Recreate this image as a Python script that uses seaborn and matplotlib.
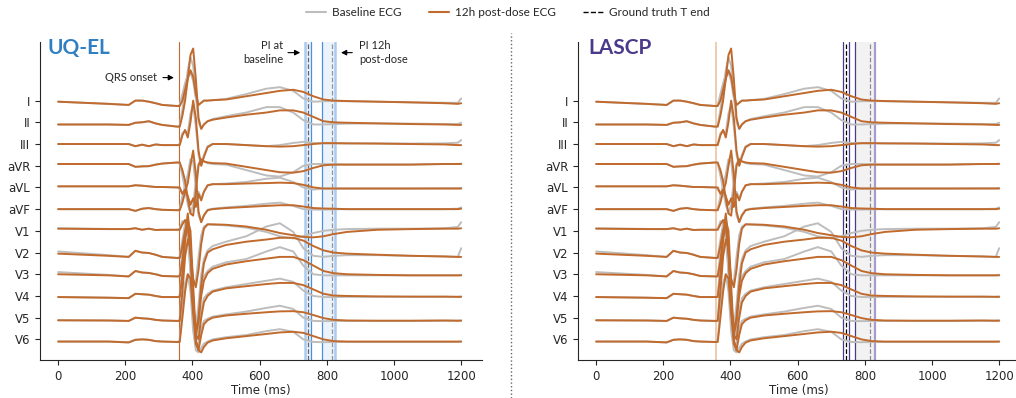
import numpy as np
import pandas as pd
import matplotlib
matplotlib.use("Agg")
import matplotlib.pyplot as plt
import seaborn as sns
from matplotlib.lines import Line2D

sns.set_style("ticks")
plt.rcParams['font.family'] = ['DejaVu Sans']

leads = ['I', 'II', 'III', 'aVR', 'aVL', 'aVF', 'V1', 'V2', 'V3', 'V4', 'V5', 'V6']

# shared time knots (ms)
t_ms = [0, 150, 210, 230, 250, 270, 290, 310, 355, 362, 370, 378, 386, 394, 402, 410,
        418, 426, 434, 445, 460, 500, 560, 620, 660, 700, 730, 760, 790, 820, 860, 950,
        1050, 1150, 1190, 1200]

# amplitudes (one lead spacing = 1 unit)
I_post = [-0.05, -0.15, -0.2, 0.0, 0.0, -0.05, -0.12, -0.2, -0.25, -0.25, 0.0, 0.5, 1.0, 1.4, 1.1, 0.3,
          -0.2, -0.1, 0.0, 0.0, 0.02, 0.05, 0.2, 0.35, 0.45, 0.5, 0.4, 0.2, 0.05, 0.0, -0.02, -0.05,
          -0.08, -0.12, -0.15, -0.12]
I_base = [-0.05, -0.15, -0.2, 0.0, 0.0, -0.05, -0.12, -0.2, -0.25, -0.2, 0.3, 0.8, 1.2, 1.3, 0.9, 0.1,
          -0.2, -0.1, 0.0, 0.0, 0.02, 0.08, 0.3, 0.55, 0.62, 0.45, 0.1, -0.05, -0.03, -0.02, -0.03, -0.05,
          -0.08, -0.1, -0.1, 0.1]
II_post = [-0.1, -0.1, -0.12, -0.02, 0.0, 0.05, -0.05, -0.12, -0.2, -0.2, 0.3, 1.0, 2.0, 3.1, 3.4, 2.0,
           0.2, -0.3, -0.1, 0.05, 0.12, 0.22, 0.35, 0.45, 0.55, 0.55, 0.45, 0.25, 0.05, 0.0, -0.02, -0.05,
           -0.08, -0.1, -0.12, -0.12]
II_base = [-0.1, -0.1, -0.12, -0.02, 0.0, 0.05, -0.05, -0.12, -0.2, -0.15, 0.6, 1.4, 2.4, 3.0, 2.6, 1.2,
           0.0, -0.3, -0.1, 0.05, 0.15, 0.28, 0.45, 0.7, 0.7, 0.45, 0.1, -0.1, -0.1, -0.08, -0.06, -0.05,
           -0.06, -0.08, -0.08, -0.02]
III_post = [0.0, 0.0, 0.0, -0.1, -0.03, -0.1, -0.02, -0.05, -0.05, -0.05, 0.4, 0.65, 0.3, 1.0, 2.0, 1.2,
            -0.3, -1.0, -0.6, -0.15, 0.0, 0.0, -0.05, -0.1, -0.12, -0.1, -0.05, 0.0, 0.04, 0.04, 0.03, 0.02,
            0.0, -0.02, -0.05, -0.05]
III_base = [0.0, 0.0, 0.0, -0.1, -0.03, -0.1, -0.02, -0.05, -0.05, 0.0, 0.5, 0.6, 0.5, 1.4, 1.8, 0.8,
            -0.5, -1.0, -0.5, -0.1, 0.0, 0.0, -0.05, -0.1, -0.05, 0.05, 0.1, 0.05, 0.03, 0.03, 0.03, 0.03,
            0.02, 0.03, 0.06, 0.18]
aVR_post = [0.08, 0.08, 0.08, -0.05, -0.03, -0.02, 0.05, 0.1, 0.15, 0.15, -0.2, -0.7, -1.5, -2.2, -2.3, -1.2,
            0.0, 0.3, 0.2, 0.15, 0.12, 0.1, -0.05, -0.2, -0.3, -0.32, -0.25, -0.1, 0.02, 0.05, 0.05, 0.05,
            0.05, 0.08, 0.08, 0.08]
aVR_base = [0.08, 0.08, 0.08, -0.05, -0.03, -0.02, 0.05, 0.1, 0.15, 0.1, -0.45, -1.1, -1.8, -2.2, -1.8, -0.7,
            0.1, 0.3, 0.2, 0.12, 0.08, 0.05, -0.2, -0.45, -0.5, -0.3, 0.0, 0.08, 0.08, 0.07, 0.06, 0.06,
            0.06, 0.08, 0.08, 0.1]
aVL_post = [0.05, 0.05, 0.05, 0.1, 0.08, 0.05, 0.02, 0.02, 0.0, 0.0, -0.3, -0.1, -0.4, -0.8, -0.5, -0.9,
            -0.3, -0.6, -0.2, 0.1, 0.15, 0.15, 0.18, 0.2, 0.22, 0.2, 0.12, 0.0, -0.05, -0.05, -0.05, -0.05,
            -0.05, -0.05, -0.05, -0.05]
aVL_base = [0.05, 0.05, 0.05, 0.1, 0.08, 0.05, 0.02, 0.02, 0.0, -0.1, -0.25, -0.2, -0.6, -0.7, -0.6, -0.7,
            -0.2, -0.5, -0.2, 0.08, 0.15, 0.18, 0.25, 0.4, 0.45, 0.25, 0.0, -0.1, -0.05, -0.05, -0.05, -0.05,
            -0.05, -0.04, -0.04, -0.02]
aVF_post = [0.0, 0.0, 0.0, -0.08, 0.02, 0.05, 0.0, -0.03, -0.05, -0.05, 0.3, 0.8, 1.2, 2.0, 2.7, 1.6,
            -0.1, -0.6, -0.3, -0.05, 0.0, 0.05, 0.1, 0.15, 0.18, 0.18, 0.12, 0.05, 0.03, 0.02, 0.0, 0.0,
            0.0, 0.0, 0.0, 0.02]
aVF_base = [0.0, 0.0, 0.0, -0.08, 0.02, 0.05, 0.0, -0.03, -0.05, 0.0, 0.6, 1.1, 1.6, 2.3, 2.2, 1.0,
            -0.3, -0.6, -0.25, -0.03, 0.02, 0.08, 0.15, 0.25, 0.3, 0.15, 0.0, -0.02, -0.02, -0.01, 0.0, 0.0,
            0.0, 0.0, 0.02, 0.08]
V1_post = [0.1, 0.08, 0.08, 0.12, 0.05, 0.1, 0.04, 0.05, 0.05, 0.05, 0.3, 0.5, 0.2, -1.0, -2.2, -2.6,
           -1.8, -0.6, 0.1, 0.3, 0.3, 0.28, 0.2, 0.05, -0.1, -0.2, -0.28, -0.3, -0.25, -0.15, -0.05, 0.05,
           0.08, 0.1, 0.1, 0.12]
V1_base = [0.12, 0.09, 0.08, 0.12, 0.05, 0.1, 0.04, 0.05, 0.05, 0.1, 0.45, 0.4, -0.3, -1.6, -2.5, -2.3,
           -1.2, -0.2, 0.2, 0.3, 0.28, 0.25, 0.15, -0.05, -0.25, -0.35, -0.25, -0.1, 0.0, 0.05, 0.08, 0.1,
           0.1, 0.12, 0.18, 0.4]
V2_post = [-0.05, -0.15, -0.2, 0.08, 0.0, -0.02, -0.1, -0.2, -0.25, -0.25, 0.3, 1.0, 1.4, 0.0, -2.5, -3.6,
           -3.0, -1.5, -0.5, 0.0, 0.15, 0.35, 0.5, 0.6, 0.68, 0.68, 0.55, 0.3, 0.1, 0.0, -0.05, -0.1,
           -0.15, -0.18, -0.2, -0.2]
V2_base = [0.05, -0.12, -0.2, 0.08, 0.0, -0.02, -0.1, -0.2, -0.25, -0.2, 0.6, 1.3, 1.0, -1.0, -3.2, -3.4,
           -2.4, -1.0, -0.3, 0.1, 0.3, 0.5, 0.75, 1.2, 1.35, 0.95, 0.2, -0.15, -0.2, -0.15, -0.12, -0.12,
           -0.15, -0.18, -0.2, 0.2]
V3_post = [0.0, -0.05, -0.1, 0.15, 0.08, 0.06, 0.0, -0.08, -0.1, -0.1, 0.6, 1.8, 2.8, 1.5, -1.5, -2.8,
           -2.2, -1.0, -0.3, 0.05, 0.25, 0.45, 0.6, 0.72, 0.8, 0.8, 0.65, 0.4, 0.15, 0.05, 0.0, -0.03,
           -0.05, -0.05, -0.05, -0.05]
V3_base = [0.1, -0.03, -0.1, 0.15, 0.08, 0.06, 0.0, -0.08, -0.1, -0.05, 1.0, 2.3, 2.5, 0.5, -2.2, -2.7,
           -1.8, -0.7, -0.1, 0.15, 0.35, 0.55, 0.7, 1.05, 1.25, 1.05, 0.4, 0.0, -0.05, -0.05, -0.05, -0.05,
           -0.05, -0.05, -0.05, -0.02]
V4_post = [-0.05, -0.08, -0.1, 0.1, 0.08, 0.06, 0.0, -0.05, -0.05, -0.05, 1.0, 2.5, 3.5, 3.0, 0.5, -1.8,
           -2.0, -1.0, -0.3, 0.0, 0.2, 0.35, 0.45, 0.55, 0.6, 0.6, 0.5, 0.3, 0.1, 0.02, 0.0, -0.02,
           -0.03, -0.03, -0.04, -0.04]
V4_base = [-0.05, -0.08, -0.1, 0.1, 0.08, 0.06, 0.0, -0.05, -0.05, 0.0, 1.5, 3.0, 3.4, 2.2, -0.5, -2.0,
           -1.6, -0.7, -0.1, 0.1, 0.25, 0.4, 0.55, 0.7, 0.8, 0.65, 0.25, 0.0, -0.05, -0.05, -0.04, -0.04,
           -0.04, -0.04, -0.04, -0.02]
V5_post = [-0.12, -0.13, -0.15, 0.0, -0.03, -0.05, -0.1, -0.13, -0.15, -0.15, 1.2, 2.8, 3.6, 3.2, 1.0, -1.0,
           -1.5, -0.8, -0.3, -0.12, 0.0, 0.1, 0.18, 0.25, 0.29, 0.3, 0.25, 0.12, -0.02, -0.1, -0.13, -0.14,
           -0.14, -0.13, -0.14, -0.14]
V5_base = [-0.12, -0.13, -0.15, 0.0, -0.03, -0.05, -0.1, -0.13, -0.15, -0.1, 1.7, 3.2, 3.4, 2.4, 0.0, -1.3,
           -1.2, -0.5, -0.15, -0.05, 0.05, 0.15, 0.28, 0.45, 0.55, 0.4, 0.0, -0.15, -0.16, -0.15, -0.15, -0.15,
           -0.15, -0.14, -0.14, -0.12]
V6_post = [-0.1, -0.1, -0.14, -0.02, 0.0, -0.02, -0.08, -0.1, -0.12, -0.12, 1.0, 2.2, 3.0, 2.8, 1.2, -0.2,
           -0.5, -0.6, -0.35, -0.15, -0.05, 0.05, 0.15, 0.25, 0.32, 0.35, 0.3, 0.15, 0.0, -0.08, -0.1, -0.1,
           -0.1, -0.1, -0.1, -0.1]
V6_base = [-0.1, -0.1, -0.14, -0.02, 0.0, -0.02, -0.08, -0.1, -0.12, -0.05, 1.5, 2.6, 3.0, 2.2, 0.4, -0.5,
           -0.6, -0.4, -0.2, -0.1, 0.0, 0.1, 0.2, 0.38, 0.47, 0.35, 0.0, -0.12, -0.13, -0.12, -0.12, -0.12,
           -0.12, -0.12, -0.12, -0.1]

post = [I_post, II_post, III_post, aVR_post, aVL_post, aVF_post,
        V1_post, V2_post, V3_post, V4_post, V5_post, V6_post]
base = [I_base, II_base, III_base, aVR_base, aVL_base, aVF_base,
        V1_base, V2_base, V3_base, V4_base, V5_base, V6_base]

# interval estimates (ms)
qrs_onset = [360, 358]
truth_tend = [745, 815]
uqel_pi = [(736, 753), (787, 825)]
lascp_pi = [(735, 753), (770, 829)]

rows = []
for i, name in enumerate(leads):
    for cond, vals in (('Baseline ECG', base[i]), ('12h post-dose ECG', post[i])):
        for t, v in zip(t_ms, vals):
            rows.append((name, cond, t, v - i))
df = pd.DataFrame(rows, columns=['lead', 'condition', 'time', 'y'])

gray = '#bdbdbd'
orange = '#c06a2d'
blue = '#2f7fc1'
purple = '#4b3a8c'

fig = plt.figure(figsize=(10.16, 3.98), dpi=100)
ax1 = fig.add_axes([40 / 1016, 38 / 398, 442 / 1016, 318 / 398])
ax2 = fig.add_axes([578 / 1016, 38 / 398, 442 / 1016, 318 / 398])

for ax in (ax1, ax2):
    sns.lineplot(data=df, x='time', y='y', hue='condition', units='lead', estimator=None,
                 hue_order=['Baseline ECG', '12h post-dose ECG'], palette=[gray, orange],
                 lw=1.4, legend=False, sort=False, ax=ax, zorder=3)
    ax.set_xlim(-54, 1262)
    ax.set_ylim(-11.95, 2.7)
    ax.set_yticks(-np.arange(len(leads)))
    ax.set_yticklabels(leads)
    ax.set_xticks([0, 200, 400, 600, 800, 1000, 1200])
    ax.tick_params(labelsize=8.5, length=3.5)
    ax.set_xlabel('Time (ms)', fontsize=8.5, labelpad=1)
    ax.set_ylabel('')
    sns.despine(ax=ax)

# UQ-EL panel
ax1.axvline(qrs_onset[0], color=orange, lw=0.8, zorder=2)
ax1.axvline(truth_tend[0], color='black', ls='--', lw=0.9, zorder=1)
ax1.axvline(truth_tend[1], color='#555555', ls='--', lw=0.9, zorder=1)
ax1.axvspan(*uqel_pi[0], color='#d6e5f6', alpha=0.45, lw=0, zorder=1.5)
ax1.axvspan(*uqel_pi[1], color='#d6e5f6', alpha=0.45, lw=0, zorder=1.5)
ax1.axvline(uqel_pi[0][0], color='#aacbf0', lw=1.8, zorder=1.6)
ax1.axvline(uqel_pi[0][1], color='#4a90e2', lw=0.9, zorder=1.6)
ax1.axvline(uqel_pi[1][0], color='#4a90e2', lw=0.9, zorder=1.6)
ax1.axvline(uqel_pi[1][1], color='#aacbf0', lw=1.8, zorder=1.6)
ax1.text(0.018, 0.98, 'UQ-EL', transform=ax1.transAxes, fontsize=15, fontweight='bold',
         color=blue, va='center', ha='left', family='Lato')

ax1.annotate('', xy=(353, 1.06), xytext=(304, 1.06),
             arrowprops=dict(arrowstyle='-|>', color='black', lw=0.8, mutation_scale=8))
ax1.text(295, 1.06, 'QRS onset', ha='right', va='center', fontsize=8, family='Lato')
ax1.annotate('', xy=(729, 2.21), xytext=(676, 2.21),
             arrowprops=dict(arrowstyle='-|>', color='black', lw=0.8, mutation_scale=8))
ax1.text(670, 2.21, 'PI at\nbaseline', ha='right', va='center', fontsize=8, family='Lato',
         linespacing=1.35)
ax1.annotate('', xy=(834, 2.21), xytext=(884, 2.21),
             arrowprops=dict(arrowstyle='-|>', color='black', lw=0.8, mutation_scale=8))
ax1.text(897, 2.21, 'PI 12h\npost-dose', ha='left', va='center', fontsize=8, family='Lato',
         linespacing=1.35)

# LASCP panel
ax2.axvline(qrs_onset[1], color='#ebc4a2', lw=1.2, zorder=2)
ax2.axvline(truth_tend[0], color='black', ls='--', lw=0.9, zorder=1)
ax2.axvline(truth_tend[1], color='#333333', ls='--', lw=0.9, zorder=1)
ax2.axvspan(*lascp_pi[1], color='#e6e6e6', alpha=0.5, lw=0, zorder=1.5)
ax2.axvline(lascp_pi[0][0], color=purple, lw=0.9, zorder=1.6)
ax2.axvline(lascp_pi[0][1], color=purple, lw=0.9, zorder=1.6)
ax2.axvline(lascp_pi[1][0], color=purple, lw=0.9, zorder=1.6)
ax2.axvline(lascp_pi[1][1], color='#a99bd0', lw=1.6, zorder=1.6)
ax2.text(0.023, 0.98, 'LASCP', transform=ax2.transAxes, fontsize=15, fontweight='bold',
         color=purple, va='center', ha='left', family='Lato')

# divider
fig.add_artist(Line2D([510.5 / 1016] * 2, [0, 365 / 398], ls=':', color='#666666', lw=1))

handles = [Line2D([], [], color=gray, lw=1.5),
           Line2D([], [], color=orange, lw=1.5),
           Line2D([], [], color='black', ls='--', lw=1)]
fig.legend(handles, ['Baseline ECG', '12h post-dose ECG', 'Ground truth T end'],
           loc='upper center', bbox_to_anchor=(0.5, 1.01), ncol=3, frameon=False,
           prop={'family': 'Lato', 'size': 8.5}, handlelength=1.7, columnspacing=2.3,
           handletextpad=0.5)

fig.savefig('out.png', dpi=100)
